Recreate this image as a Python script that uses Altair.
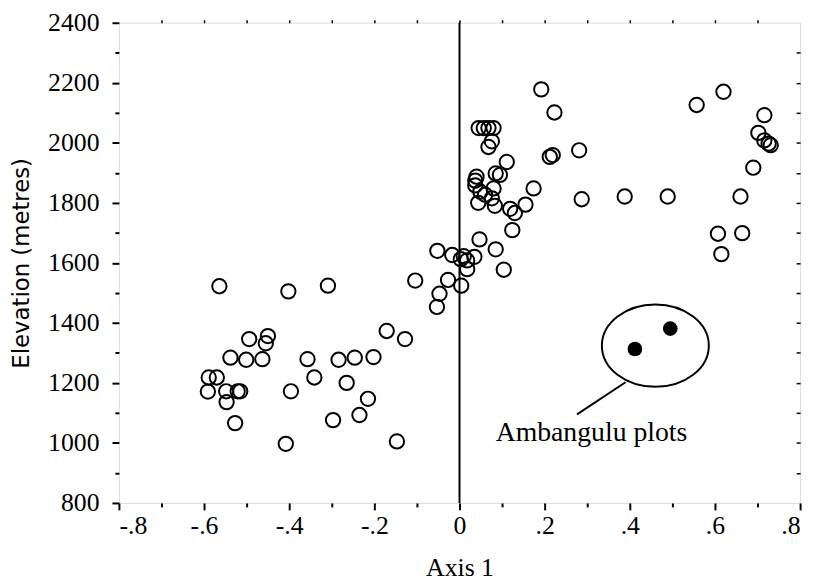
import altair as alt
import pandas as pd

# Open circles (Axis 1 score, elevation in metres)
open_x = [
    -0.564, -0.402, -0.309, -0.104, -0.027, -0.047, -0.053,
    -0.494, -0.450, -0.455, -0.538, -0.501, -0.463, -0.357, -0.284, -0.246, -0.202,
    -0.171, -0.128, -0.589, -0.570, -0.591, -0.548, -0.521, -0.515, -0.547, -0.527,
    -0.341, -0.396, -0.265, -0.215, -0.235, -0.297, -0.408, -0.147,
    -0.052, -0.017, 0.003, 0.010, 0.018, 0.035, 0.018, 0.004, 0.047, 0.085, 0.104, 0.124,
    0.192, 0.223, 0.045, 0.057, 0.068, 0.080, 0.076, 0.068, 0.111, 0.212, 0.219, 0.281,
    0.040, 0.037, 0.037, 0.085, 0.095, 0.049, 0.080, 0.060, 0.044, 0.076, 0.083,
    0.119, 0.130, 0.155, 0.174,
    0.287, 0.388, 0.489, 0.660, 0.557, 0.620, 0.716, 0.702, 0.716, 0.726, 0.731, 0.690,
    0.607, 0.664, 0.615,
]
open_y = [
    1522, 1505, 1524, 1541, 1543, 1497, 1453,
    1346, 1356, 1332, 1284, 1277, 1279, 1279, 1277, 1284, 1286,
    1373, 1346, 1218, 1218, 1171, 1172, 1172, 1172, 1136, 1066,
    1218, 1172, 1200, 1147, 1093, 1076, 997, 1005,
    1640, 1626, 1612, 1622, 1608, 1620, 1579, 1524, 1678, 1645, 1577, 1709,
    2178, 2101, 2049, 2049, 2049, 2049, 2005, 1986, 1936, 1953, 1959, 1975,
    1887, 1874, 1858, 1898, 1893, 1837, 1848, 1827, 1800, 1815, 1790,
    1780, 1766, 1794, 1848,
    1812, 1821, 1821, 1821, 2126, 2170, 2092, 2033, 2008, 1997, 1992, 1917,
    1697, 1699, 1629,
]

# Filled circles: Ambangulu plots
filled_x = [0.412, 0.495]
filled_y = [1313, 1381]

# Annotation (ellipse around Ambangulu plots, leader line, label)
ell_x = [0.46]
ell_y = [1324]
lead_x, lead_y, lead_x2, lead_y2 = [0.390], [1202], [0.276], [1095]
label_x, label_y, label_text = [0.31], [1007], ["Ambangulu plots"]

x_major = [-0.8, -0.6, -0.4, -0.2, 0.0, 0.2, 0.4, 0.6, 0.8]
x_minor = [-0.7, -0.5, -0.3, -0.1, 0.1, 0.3, 0.5, 0.7]
x_all = [-0.7, -0.6, -0.5, -0.4, -0.3, -0.2, -0.1, 0.0, 0.1, 0.2, 0.3, 0.4, 0.5, 0.6, 0.7]
y_major = [800, 1000, 1200, 1400, 1600, 1800, 2000, 2200, 2400]
y_minor = [900, 1100, 1300, 1500, 1700, 1900, 2100, 2300]
y_all = [900, 1000, 1100, 1200, 1300, 1400, 1500, 1600, 1700, 1800, 1900, 2000, 2100, 2200, 2300]

df_open = pd.DataFrame({"x": open_x, "y": open_y})
df_filled = pd.DataFrame({"x": filled_x, "y": filled_y})
df_ell = pd.DataFrame({"x": ell_x, "y": ell_y})
df_lead = pd.DataFrame({"x": lead_x, "y": lead_y, "x2": lead_x2, "y2": lead_y2})
df_label = pd.DataFrame({"x": label_x, "y": label_y, "t": label_text})
df_zero = pd.DataFrame({"x": [0.0]})

xs = alt.Scale(domain=[-0.8, 0.8], nice=False, zero=False)
ys = alt.Scale(domain=[800, 2400], nice=False, zero=False)

SERIF = "Liberation Serif"

x_major_axis = alt.Axis(
    orient="bottom", values=x_major, tickSize=7, tickWidth=2, tickColor="black",
    domain=False, grid=False, labelFont=SERIF, labelFontSize=26, labelColor="black",
    labelPadding=3,
    labelExpr="datum.value == 0 ? '0' : (datum.value < 0 ? '-' : '') + '.' + format(abs(round(datum.value*10)), 'd')",
    title="Axis 1", titleFont=SERIF, titleFontSize=26, titleFontWeight="normal",
    titleColor="black", titlePadding=16,
)
x_minor_axis = alt.Axis(
    orient="bottom", values=x_minor, tickSize=4, tickWidth=2, tickColor="black",
    domain=False, grid=False, labels=False, title=None,
)
x_top_axis = alt.Axis(
    orient="top", values=x_all, tickSize=3, tickWidth=1.5, tickColor="black",
    domain=False, grid=False, labels=False, title=None,
)
y_major_axis = alt.Axis(
    orient="left", values=y_major, tickSize=7, tickWidth=2, tickColor="black",
    domain=False, grid=False, format="d", labelFont=SERIF, labelFontSize=26,
    labelColor="black", labelPadding=13, title="Elevation (metres)",
    titleFont="DejaVu Sans", titleFontSize=23, titleFontWeight="normal",
    titleColor="black", titlePadding=14,
)
y_minor_axis = alt.Axis(
    orient="left", values=y_minor, tickSize=4, tickWidth=2, tickColor="black",
    domain=False, grid=False, labels=False, title=None,
)
y_right_axis = alt.Axis(
    orient="right", values=y_all, tickSize=4, tickWidth=1.5, tickColor="black",
    domain=False, grid=False, labels=False, title=None, offset=-4,
)

open_pts = alt.Chart(df_open).mark_point(
    shape="circle", filled=False, size=210, strokeWidth=2, color="black", opacity=1
).encode(
    x=alt.X("x:Q", scale=xs, axis=x_major_axis),
    y=alt.Y("y:Q", scale=ys, axis=y_major_axis),
)

filled_pts = alt.Chart(df_filled).mark_point(
    shape="circle", filled=True, size=220, color="black", opacity=1
).encode(
    x=alt.X("x:Q", scale=xs, axis=x_minor_axis),
    y=alt.Y("y:Q", scale=ys, axis=y_minor_axis),
)

zero_line = alt.Chart(df_zero).mark_rule(color="black", strokeWidth=2).encode(
    x=alt.X("x:Q", scale=xs, axis=x_top_axis),
)

ellipse_path = "M -1 0 A 1 0.77 0 1 1 1 0 A 1 0.77 0 1 1 -1 0 Z"
ellipse = alt.Chart(df_ell).mark_point(
    shape=ellipse_path, size=11664, filled=False, strokeWidth=2, color="black", opacity=1
).encode(
    x=alt.X("x:Q", scale=xs, axis=None),
    y=alt.Y("y:Q", scale=ys, axis=y_right_axis),
)

leader = alt.Chart(df_lead).mark_rule(color="black", strokeWidth=2).encode(
    x=alt.X("x:Q", scale=xs, axis=None),
    y=alt.Y("y:Q", scale=ys, axis=None),
    x2="x2:Q",
    y2="y2:Q",
)

label = alt.Chart(df_label).mark_text(
    font=SERIF, fontSize=28, align="center", baseline="alphabetic", color="black"
).encode(
    x=alt.X("x:Q", scale=xs, axis=None),
    y=alt.Y("y:Q", scale=ys, axis=None),
    text="t:N",
)

chart = alt.layer(
    open_pts, filled_pts, zero_line, ellipse, leader, label
).resolve_scale(
    x="shared", y="shared"
).resolve_axis(
    x="independent", y="independent"
).properties(
    width=688, height=485,
    autosize=alt.AutoSizeParams(type="none"),
    padding={"left": 112, "top": 12, "right": 11, "bottom": 81},
).configure_view(
    stroke="black", strokeWidth=2
).configure(background="white")

chart.save("out.html", embed_options={"renderer": "svg", "actions": False})
